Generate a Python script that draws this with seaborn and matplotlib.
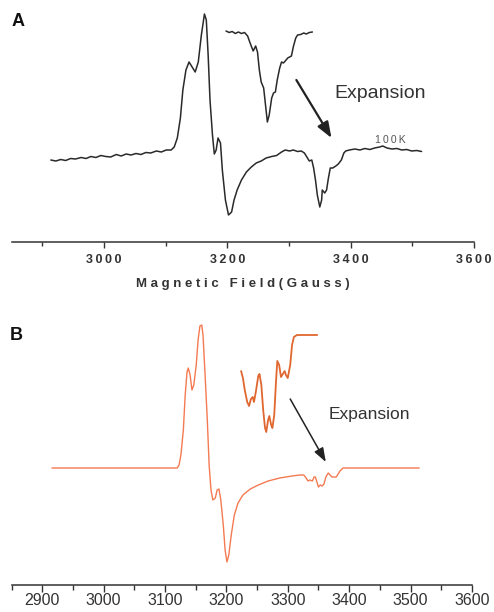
import numpy as np
import pandas as pd
import matplotlib
matplotlib.use("Agg")
import matplotlib.pyplot as plt
import seaborn as sns
from matplotlib.ticker import FuncFormatter, FixedLocator

sns.set_theme(style="white")
plt.rcParams['font.family'] = ['Liberation Sans', 'DejaVu Sans']

# ---------------- Panel A: experimental spectrum (100 K) ----------------
field_a = [2914, 2922, 2930, 2938, 2946, 2954, 2963, 2971, 2979, 2987, 2995, 3003,
           3011, 3020, 3028, 3036, 3044, 3052, 3060, 3068, 3076, 3085, 3093, 3101,
           3109, 3114, 3119, 3124, 3128, 3133, 3138, 3143, 3148, 3153, 3158, 3163,
           3166, 3169, 3172, 3176, 3179, 3182, 3185, 3189, 3192, 3197, 3202, 3207,
           3211, 3216, 3223, 3231, 3239, 3247, 3255, 3263, 3272, 3280, 3288, 3294,
           3301, 3307, 3314, 3320, 3325, 3330, 3333, 3337, 3340, 3343, 3346, 3350,
           3353, 3354, 3358, 3361, 3364, 3367, 3371, 3376, 3380, 3385, 3389, 3392,
           3398, 3407, 3415, 3423, 3431, 3439, 3447, 3452, 3459, 3467, 3475, 3483,
           3491, 3499, 3507, 3515]
signal_a = [0, -1, 0.5, -0.5, 1.5, 1, 2.5, 1.5, 3.5, 2.5, 4.5, 3.5,
            3, 5.5, 4, 6, 5, 6.5, 5.5, 7.5, 7, 9, 8, 10,
            10, 13, 22, 42, 70, 90, 98, 93, 88, 98, 125, 146,
            140, 105, 60, 25, 6, 10, 22, 17, -10, -40, -55, -52,
            -40, -30, -20, -12, -7, -3, -1, 2, 3.5, 4.5, 8, 10,
            9, 10, 8.5, 9, 7, 2, -1, 0, -8, -20, -35, -47,
            -40, -30, -33, -30, -18, -8, -8, -6, -4, 0, 7, 9,
            10, 11, 10, 11.5, 10.5, 12, 13, 14, 12, 11, 11.5, 10,
            10.5, 9, 9.5, 8.5]

# Panel A: expansion inset (drawn on same axes, arbitrary offset units)
field_a_exp = [3198, 3203, 3208, 3213, 3218, 3223, 3228, 3233, 3237, 3242, 3246, 3249,
               3252, 3255, 3259, 3262, 3265, 3268, 3272, 3275, 3278, 3281, 3285, 3288,
               3291, 3294, 3298, 3301, 3304, 3307, 3311, 3314, 3319, 3324, 3328, 3333, 3338]
signal_a_exp = [129, 127.5, 128.5, 126.5, 128, 126.5, 127.5, 124, 117, 109, 114, 108,
                90, 78, 72, 55, 38, 45, 62, 67, 68, 80, 92, 98,
                97, 99, 102, 103, 104, 113, 122, 125, 125.5, 127, 126, 127.5, 128]

# ---------------- Panel B: simulated spectrum ----------------
field_b = [2916, 3120, 3123, 3126, 3130, 3133, 3136, 3138, 3141, 3144, 3147, 3151,
           3154, 3157, 3160, 3162, 3165, 3169, 3172, 3175, 3178, 3182, 3185, 3188,
           3191, 3195, 3198, 3201, 3204, 3208, 3213, 3219, 3227, 3239, 3252, 3268,
           3287, 3307, 3320, 3326, 3330, 3333, 3336, 3340, 3343, 3345, 3348, 3350,
           3353, 3356, 3359, 3362, 3366, 3369, 3372, 3375, 3379, 3382, 3385, 3390, 3514]
signal_b = [0, 0, 3, 13, 38, 73, 96, 100, 93, 78, 83, 103,
            128, 142, 143, 133, 98, 48, 3, -22, -32, -30, -22, -21,
            -32, -57, -82, -94, -87, -67, -47, -35, -27, -21, -17, -13,
            -10, -8, -7, -7, -10, -13, -12, -13, -9, -9, -15, -19,
            -17, -18, -16, -9, -5, -7, -9, -9, -9, -6, -3, 0, 0]

field_b_exp = [3224, 3227, 3230, 3234, 3237, 3240, 3243, 3245, 3248, 3252, 3254, 3257,
               3260, 3263, 3265, 3268, 3270, 3273, 3275, 3278, 3281, 3283, 3286, 3289,
               3292, 3295, 3297, 3300, 3304, 3307, 3310, 3315, 3348]
signal_b_exp = [97, 90, 78, 66, 62, 69, 71, 66, 76, 92, 94, 83,
                58, 40, 36, 48, 52, 43, 40, 53, 88, 107, 103, 91,
                94, 97, 93, 90, 103, 123, 131, 133, 133]

ticks_a = [3000, 3200, 3400, 3600]
ticks_b = [2900, 3000, 3100, 3200, 3300, 3400, 3500, 3600]

df_a = pd.DataFrame({"field": field_a, "signal": signal_a})
df_a_exp = pd.DataFrame({"field": field_a_exp, "signal": signal_a_exp})
df_b = pd.DataFrame({"field": field_b, "signal": signal_b})
df_b_exp = pd.DataFrame({"field": field_b_exp, "signal": signal_b_exp})

W, H = 494, 612
fig = plt.figure(figsize=(W / 100, H / 100), dpi=100)


def px_axes(left, top, right, bottom):
    return fig.add_axes([left / W, 1 - bottom / H, (right - left) / W, (bottom - top) / H])


XLIM = (2851, 3600)

# ---- Panel A ----
axA = px_axes(12, 5, 474, 242)
sns.lineplot(data=df_a, x="field", y="signal", ax=axA, color="#2a2a2a", lw=1.1,
             sort=False, estimator=None)
sns.lineplot(data=df_a_exp, x="field", y="signal", ax=axA, color="#2a2a2a", lw=1.1,
             sort=False, estimator=None)
axA.set_xlim(*XLIM)
axA.set_ylim(-82, 155)

# ---- Panel B ----
axB = px_axes(12, 309, 472, 585)
sns.lineplot(data=df_b, x="field", y="signal", ax=axB, color="#f47a52", lw=1.0,
             sort=False, estimator=None)
sns.lineplot(data=df_b_exp, x="field", y="signal", ax=axB, color="#e0672f", lw=1.3,
             sort=False, estimator=None)
axB.set_xlim(XLIM[0], 3600)
axB.set_ylim(-117, 159)

for ax in (axA, axB):
    for s in ("left", "right", "top"):
        ax.spines[s].set_visible(False)
    ax.spines["bottom"].set_color("#333333")
    ax.spines["bottom"].set_linewidth(1.1)
    ax.set_yticks([])
    ax.set_ylabel("")
    ax.set_xlabel("")
    ax.patch.set_alpha(0)

# A ticks
axA.xaxis.set_major_locator(FixedLocator(ticks_a))
axA.xaxis.set_minor_locator(FixedLocator([t - 100 for t in ticks_a]))
axA.xaxis.set_major_formatter(FuncFormatter(lambda v, p: "\u2009".join(str(int(v)))))
axA.tick_params(axis="x", which="major", direction="out", length=4, width=1,
                color="#333333", labelsize=9, labelcolor="#333333", pad=5, bottom=True)
axA.tick_params(axis="x", which="minor", direction="out", length=3, width=1,
                color="#333333", bottom=True)
for lab in axA.get_xticklabels():
    lab.set_fontweight("bold")
axA.set_xlabel("M a g n e t i c   F i e l d ( G a u s s )", fontsize=9.5,
               fontweight="bold", color="#333333", labelpad=8)

# B ticks
axB.xaxis.set_major_locator(FixedLocator(ticks_b))
axB.xaxis.set_minor_locator(FixedLocator([2851] + [t + 50 for t in ticks_b[:-1]]))
axB.tick_params(axis="x", which="major", direction="out", length=5, width=1,
                color="#333333", labelsize=11.5, labelcolor="#333333", pad=1, bottom=True)
axB.tick_params(axis="x", which="minor", direction="out", length=3.5, width=1,
                color="#333333", bottom=True)

# Annotations A
fig.text(12 / W, 1 - 26 / H, "A", fontsize=13, fontweight="bold", color="#111111")
axA.annotate("", xy=(3369, 22), xytext=(3312, 80),
             arrowprops=dict(arrowstyle="-|>,head_length=0.8,head_width=0.3",
                             color="#222222", lw=1.6, shrinkA=0, shrinkB=0))
axA.text(3374, 67, "Expansion", fontsize=14, color="#333333", ha="left", va="center")
axA.text(3439, 20, "1\u20090\u20090\u2009K", fontsize=7.5, color="#555555",
         ha="left", va="center")

# Annotations B
fig.text(10 / W, 1 - 340 / H, "B", fontsize=13, fontweight="bold", color="#111111")
axB.annotate("", xy=(3362, 6), xytext=(3304, 69),
             arrowprops=dict(arrowstyle="-|>,head_length=0.7,head_width=0.25",
                             color="#222222", lw=1.1, shrinkA=0, shrinkB=0))
axB.text(3366, 53, "Expansion", fontsize=12.5, color="#333333", ha="left", va="center")

fig.savefig("out.png", dpi=100, facecolor="white")
